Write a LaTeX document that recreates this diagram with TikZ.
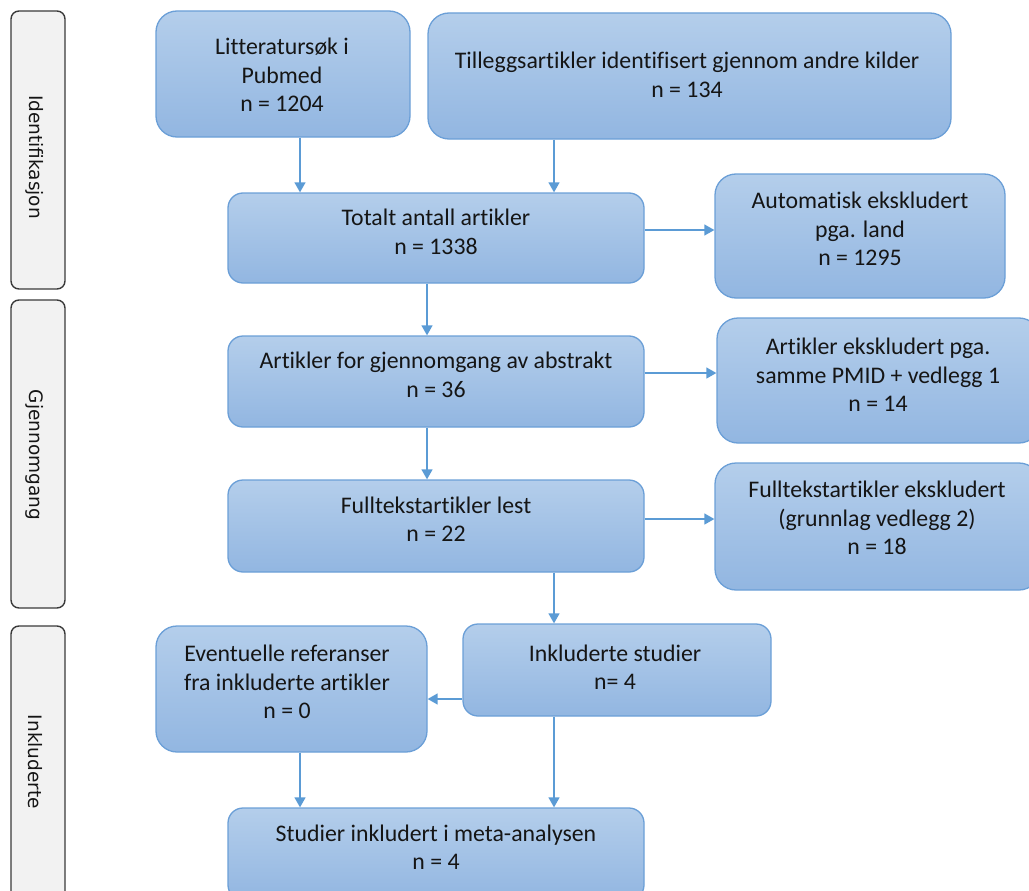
\documentclass[tikz,border=0pt]{standalone}
\usepackage{fontspec}
\setmainfont{Carlito}[Ligatures={NoCommon}]
\newfontfamily\sidefont{DejaVu Sans}
\usetikzlibrary{arrows.meta}
\definecolor{boxtop}{HTML}{B4CEEB}
\definecolor{boxbot}{HTML}{92B6E1}
\definecolor{boxline}{HTML}{6B9FD7}
\definecolor{arrowblue}{HTML}{5B9BD5}
\definecolor{sidefill}{HTML}{F2F2F2}
\definecolor{sideline}{HTML}{3A3A3A}
\definecolor{txt}{HTML}{151515}
\begin{document}
\begin{tikzpicture}[x=1pt,y=-1pt,
  bluebox/.style={draw=boxline, line width=1.3pt, top color=boxtop, bottom color=boxbot, inner sep=0pt},
  sidebox/.style={draw=sideline, line width=1.4pt, fill=sidefill, rounded corners=8pt, inner sep=0pt, minimum width=54pt},
  boxtext/.style={align=center, text=txt, font=\fontsize{23.8}{28.5}\selectfont, inner sep=0pt},
  sidetext/.style={rotate=-90, text=txt, font=\sidefont\fontsize{18.5}{22}\selectfont, inner sep=0pt},
  arr/.style={draw=arrowblue, line width=1.4pt, -{Triangle[length=10pt,width=11pt]}}]
\useasboundingbox (0,0) rectangle (1029,891);

% side labels
\node[sidebox, minimum height=278pt] (L1) at (38,150) {};
\node[sidetext] (L1t) at (35,157) {Identifikasjon};
\node[sidebox, minimum height=308pt] (L2) at (38,454) {};
\node[sidetext] (L2t) at (35,455) {Gjennomgang};
\node[sidebox, minimum height=279pt] (L3) at (38,765.5) {};
\node[sidetext] (L3t) at (35,762) {Inkluderte};

% blue boxes
\node[bluebox, minimum width=254pt, minimum height=126pt, rounded corners=21pt] (A) at (283,74) {};
\node[boxtext] (At) at (282,75) {Litteratursøk i\\Pubmed\\n = 1204};

\node[bluebox, minimum width=523pt, minimum height=126pt, rounded corners=21pt] (B) at (689.5,76) {};
\node[boxtext] (Bt) at (687,75) {Tilleggsartikler identifisert gjennom andre kilder\\n = 134};

\node[bluebox, minimum width=416pt, minimum height=90pt, rounded corners=15pt] (C) at (436,238) {};
\node[boxtext] (Ct) at (436,232) {Totalt antall artikler\\n = 1338};

\node[bluebox, minimum width=290pt, minimum height=124pt, rounded corners=21pt] (D) at (860,236) {};
\node[boxtext] (Dt) at (860,229) {Automatisk ekskludert\\pga. land\\n = 1295};

\node[bluebox, minimum width=416pt, minimum height=91pt, rounded corners=15pt] (E) at (436,381.5) {};
\node[boxtext] (Et) at (436,375) {Artikler for gjennomgang av abstrakt\\n = 36};

\node[bluebox, minimum width=323pt, minimum height=125pt, rounded corners=21pt] (F) at (878.5,380.5) {};
\node[boxtext] (Ft) at (878,375) {Artikler ekskludert pga.\\samme PMID + vedlegg 1\\n = 14};

\node[bluebox, minimum width=416pt, minimum height=92pt, rounded corners=15pt] (G) at (436,526) {};
\node[boxtext] (Gt) at (436,519) {Fulltekstartikler lest\\n = 22};

\node[bluebox, minimum width=325pt, minimum height=127pt, rounded corners=21pt] (H) at (877.5,526.5) {};
\node[boxtext] (Ht) at (877,518) {Fulltekstartikler ekskludert\\(grunnlag vedlegg 2)\\n = 18};

\node[bluebox, minimum width=308pt, minimum height=92pt, rounded corners=15pt] (I) at (617,670) {};
\node[boxtext] (It) at (615,667) {Inkluderte studier\\n= 4};

\node[bluebox, minimum width=271pt, minimum height=126pt, rounded corners=21pt] (J) at (291.5,689) {};
\node[boxtext] (Jt) at (287,682) {Eventuelle referanser\\fra inkluderte artikler\\n = 0};

\node[bluebox, minimum width=416pt, minimum height=92pt, rounded corners=15pt] (K) at (436,854) {};
\node[boxtext] (Kt) at (436,847) {Studier inkludert i meta-analysen\\n = 4};

% guide coordinates
\coordinate (c300) at (300,0);
\coordinate (c427) at (427,0);
\coordinate (c554) at (554,0);
\coordinate (r230) at (0,230);
\coordinate (r373) at (0,373);
\coordinate (r519) at (0,519);
\coordinate (r699) at (0,699);

% connectors
\draw[arr] (A.south -| c300) -- (C.north -| c300);
\draw[arr] (B.south -| c554) -- (C.north -| c554);
\draw[arr] (C.east |- r230) -- (D.west |- r230);
\draw[arr] (C.south -| c427) -- (E.north -| c427);
\draw[arr] (E.east |- r373) -- (F.west |- r373);
\draw[arr] (E.south -| c427) -- (G.north -| c427);
\draw[arr] (G.east |- r519) -- (H.west |- r519);
\draw[arr] (G.south -| c554) -- (I.north -| c554);
\draw[arr] (I.west |- r699) -- (J.east |- r699);
\draw[arr] (I.south -| c554) -- (K.north -| c554);
\draw[arr] (J.south -| c300) -- (K.north -| c300);
\end{tikzpicture}
\end{document}
